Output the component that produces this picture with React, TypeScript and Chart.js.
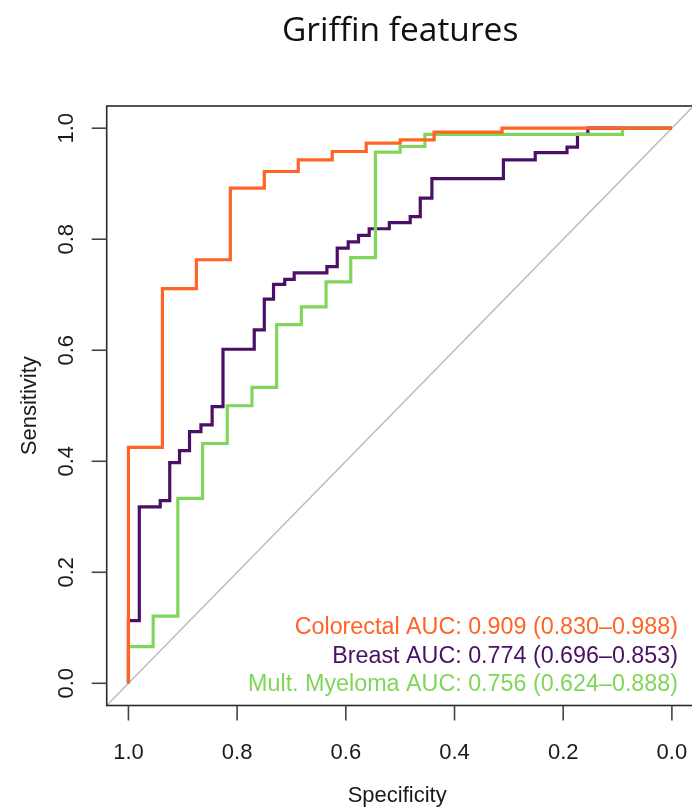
import React, { useEffect, useRef } from 'react';
import { Chart, registerables } from 'chart.js';

Chart.register(...registerables);

// ---- data ----
const chartTitle = 'Griffin features';
const xAxisTitle = 'Specificity';
const yAxisTitle = 'Sensitivity';

const xTickValues = [1.0, 0.8, 0.6, 0.4, 0.2, 0.0];
const xTickLabels = ['1.0', '0.8', '0.6', '0.4', '0.2', '0.0'];
const yTickValues = [0.0, 0.2, 0.4, 0.6, 0.8, 1.0];
const yTickLabels = ['0.0', '0.2', '0.4', '0.6', '0.8', '1.0'];

const seriesNames = ['Colorectal', 'Breast', 'Mult. Myeloma'];
const aucTexts = [
  'Colorectal AUC: 0.909 (0.830–0.988)',
  'Breast AUC: 0.774 (0.696–0.853)',
  'Mult. Myeloma AUC: 0.756 (0.624–0.888)',
];
const seriesColors = ['#FF6424', '#4B1065', '#80D65B'];

// ROC staircase: at specificity specLevels[i] the sensitivity rises to sensLevels[i]
const colorectalSpec = [1, 0.9375, 0.875, 0.8125, 0.75, 0.6875, 0.625, 0.5625, 0.5, 0.4375, 0.3125];
const colorectalSens = [0.425, 0.711, 0.763, 0.892, 0.922, 0.943, 0.958, 0.973, 0.979, 0.993, 1];

const breastSpec = [1, 0.98, 0.9415, 0.924, 0.906, 0.8876, 0.8666, 0.846, 0.826, 0.7685, 0.75, 0.733, 0.7124, 0.695, 0.6348, 0.6158, 0.5956, 0.5766, 0.557, 0.52, 0.4815, 0.463, 0.4416, 0.31, 0.2515, 0.193, 0.1737, 0.1546];
const breastSens = [0.113, 0.318, 0.329, 0.3975, 0.419, 0.4533, 0.4654, 0.4984, 0.6018, 0.6366, 0.692, 0.7186, 0.7276, 0.7393, 0.7506, 0.7838, 0.7951, 0.8068, 0.8189, 0.83, 0.8407, 0.8739, 0.9092, 0.943, 0.956, 0.9658, 0.989, 1];

const myelomaSpec = [1, 0.9545, 0.9091, 0.8636, 0.8182, 0.7727, 0.7273, 0.6818, 0.6364, 0.5909, 0.5455, 0.5, 0.4545, 0.0909];
const myelomaSens = [0.066, 0.121, 0.333, 0.432, 0.5, 0.533, 0.646, 0.678, 0.723, 0.767, 0.957, 0.967, 0.989, 1];

const axisMin = -0.04;
const axisMax = 1.04;

function staircase(spec: number[], sens: number[]) {
  const pts: { x: number; y: number }[] = [];
  let prev = 0;
  for (let i = 0; i < spec.length; i++) {
    pts.push({ x: spec[i], y: prev });
    pts.push({ x: spec[i], y: sens[i] });
    prev = sens[i];
  }
  pts.push({ x: 0, y: prev });
  return pts;
}

const RFONT = '"Liberation Sans", Arial, Helvetica, sans-serif';

const decorPlugin = {
  id: 'decor',
  afterDraw(chart: any) {
    const { ctx } = chart;
    const x = chart.scales.x;
    const y = chart.scales.y;
    const left = x.getPixelForValue(axisMax);
    const right = x.getPixelForValue(axisMin);
    const top = y.getPixelForValue(axisMax);
    const bottom = y.getPixelForValue(axisMin);
    ctx.save();
    // box
    ctx.strokeStyle = '#2a2a2a';
    ctx.lineWidth = 1.6;
    ctx.strokeRect(left, top, right - left, bottom - top);

    // x ticks
    ctx.strokeStyle = '#444';
    ctx.fillStyle = '#1a1a1a';
    ctx.font = `22px ${RFONT}`;
    ctx.textAlign = 'center';
    ctx.textBaseline = 'alphabetic';
    xTickValues.forEach((v, i) => {
      const px = x.getPixelForValue(v);
      ctx.beginPath();
      ctx.moveTo(px, bottom);
      ctx.lineTo(px, bottom + 15);
      ctx.stroke();
      ctx.fillText(xTickLabels[i], px, 759);
    });
    // y ticks
    yTickValues.forEach((v, i) => {
      const py = y.getPixelForValue(v);
      ctx.beginPath();
      ctx.moveTo(left, py);
      ctx.lineTo(left - 15, py);
      ctx.stroke();
      ctx.save();
      ctx.translate(72.5, py);
      ctx.rotate(-Math.PI / 2);
      ctx.fillText(yTickLabels[i], 0, 0);
      ctx.restore();
    });

    // axis titles
    ctx.font = `22px ${RFONT}`;
    ctx.fillText(xAxisTitle, (left + right) / 2 - 3, 802);
    ctx.save();
    ctx.translate(36, (top + bottom) / 2);
    ctx.rotate(-Math.PI / 2);
    ctx.fillText(yAxisTitle, 0, 0);
    ctx.restore();

    // title
    ctx.font = `33.5px "Open Sans", "Noto Sans", sans-serif`;
    ctx.fillStyle = '#111';
    ctx.fillText(chartTitle, (left + right) / 2, 41);

    // AUC legend
    ctx.font = `23.3px ${RFONT}`;
    ctx.textAlign = 'right';
    const baselines = [634, 662.5, 691];
    aucTexts.forEach((t, i) => {
      ctx.fillStyle = seriesColors[i];
      ctx.fillText(t, 678, baselines[i]);
    });
    ctx.restore();
  },
};

export default function App() {
  const canvasRef = useRef<HTMLCanvasElement | null>(null);

  useEffect(() => {
    const canvas = canvasRef.current;
    if (!canvas) return;
    const lineDs = (label: string, data: any[], color: string, width: number) => ({
      label,
      data,
      borderColor: color,
      backgroundColor: color,
      borderWidth: width,
      pointRadius: 0,
      pointHoverRadius: 0,
      tension: 0,
      fill: false,
      borderCapStyle: 'butt',
      borderJoinStyle: 'miter',
    });
    const chart = new Chart(canvas, {
      type: 'line',
      data: {
        datasets: [
          lineDs(seriesNames[0], staircase(colorectalSpec, colorectalSens), seriesColors[0], 3.2),
          lineDs(seriesNames[2], staircase(myelomaSpec, myelomaSens), seriesColors[2], 3.2),
          lineDs(seriesNames[1], staircase(breastSpec, breastSens), seriesColors[1], 3.2),
          lineDs('diagonal', [{ x: axisMax, y: axisMin }, { x: axisMin, y: axisMax }], '#BEBEBE', 1.5),
        ] as any,
      },
      options: {
        responsive: false,
        animation: false,
        events: [],
        layout: { padding: { left: 106.7, right: 0, top: 106, bottom: 102.5 } },
        plugins: {
          legend: { display: false },
          tooltip: { enabled: false },
          title: { display: false },
        },
        scales: {
          x: { type: 'linear', display: false, reverse: true, min: -0.037, max: axisMax },
          y: { type: 'linear', display: false, min: axisMin, max: axisMax },
        },
      },
      plugins: [decorPlugin],
    });
    return () => chart.destroy();
  }, []);

  return (
    <div style={{ position: 'absolute', left: 0, top: 0, width: 692, height: 808, background: '#fff' }}>
      <canvas ref={canvasRef} width={692} height={808} style={{ width: 692, height: 808, display: 'block' }} />
    </div>
  );
}
